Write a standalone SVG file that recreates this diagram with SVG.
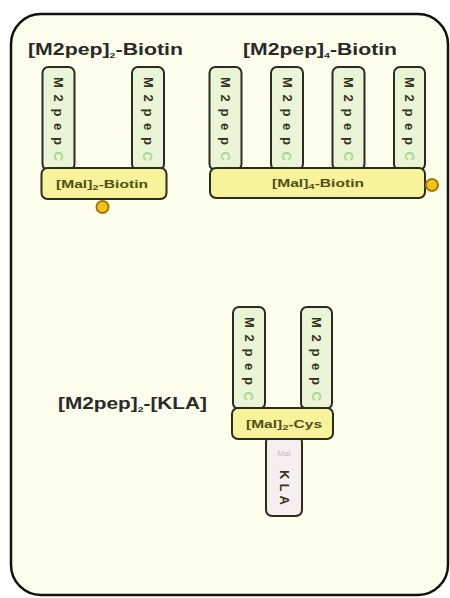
<svg xmlns="http://www.w3.org/2000/svg" width="450" height="598" viewBox="0 0 450 598">
<defs>
<style>
.frame{fill:#fefeec;stroke:#111;stroke-width:2.5}
.pep{fill:#eaf4d6;stroke:#2b2b20;stroke-width:2}
.mal{fill:#f7f39a;stroke:#2b2b20;stroke-width:2}
.kla{fill:#f7eef0;stroke:#2b2b20;stroke-width:2}
.dot{fill:#f2c418;stroke:#a8780a;stroke-width:2}
.title{font-family:"Liberation Sans",Arial,sans-serif;font-weight:bold;font-size:16px;fill:#2a2a2a}
.vt{font-family:"Liberation Sans",Arial,sans-serif;font-weight:bold;font-size:13px;fill:#33331f;dominant-baseline:central}
.vc{fill:#a9d78e}
.mt{font-family:"Liberation Sans",Arial,sans-serif;font-weight:bold;font-size:11px;fill:#4f4f18;text-anchor:middle}
.sub{font-size:8px}
.faint{font-family:"Liberation Sans",Arial,sans-serif;font-size:8px;fill:#c9b9c2;text-anchor:middle}
</style>
</defs>
<rect x="0" y="0" width="450" height="598" fill="#ffffff"/>
<rect class="frame" x="11" y="14" width="437" height="581" rx="30"/>

<g id="connectors"></g>

<g id="title-biotin2">
<text class="title" x="28" y="55" textLength="155" lengthAdjust="spacingAndGlyphs">[M2pep]<tspan class="sub" dy="3">2</tspan><tspan dy="-3">-Biotin</tspan></text>
</g>
<g id="title-biotin4">
<text class="title" x="243" y="55" textLength="154" lengthAdjust="spacingAndGlyphs">[M2pep]<tspan class="sub" dy="3">4</tspan><tspan dy="-3">-Biotin</tspan></text>
</g>
<g id="title-kla">
<text class="title" x="58" y="409" textLength="149" lengthAdjust="spacingAndGlyphs">[M2pep]<tspan class="sub" dy="3">2</tspan><tspan dy="-3">-[KLA]</tspan></text>
</g>

<!-- Biotin2 construct -->
<g id="b2-pep1">
<rect class="pep" x="42.5" y="67" width="32" height="103" rx="6"/>
<text class="vt" x="58.5" y="77" transform="rotate(90 58.5 77)" textLength="84" lengthAdjust="spacing">M2pep<tspan class="vc">C</tspan></text>
</g>
<g id="b2-pep2">
<rect class="pep" x="132" y="67" width="32" height="103" rx="6"/>
<text class="vt" x="148" y="77" transform="rotate(90 148 77)" textLength="84" lengthAdjust="spacing">M2pep<tspan class="vc">C</tspan></text>
</g>
<g id="b2-mal">
<rect class="mal" x="41.5" y="168" width="125" height="31" rx="6"/>
<text class="mt" x="102" y="188" textLength="92" lengthAdjust="spacingAndGlyphs">[Mal]<tspan class="sub" dy="2">2</tspan><tspan dy="-2">-Biotin</tspan></text>
</g>
<g id="b2-biotin">
<circle class="dot" cx="102.5" cy="207" r="6"/>
</g>

<!-- Biotin4 construct -->
<g id="b4-pep1">
<rect class="pep" x="209.5" y="67" width="32" height="103" rx="6"/>
<text class="vt" x="225.5" y="77" transform="rotate(90 225.5 77)" textLength="84" lengthAdjust="spacing">M2pep<tspan class="vc">C</tspan></text>
</g>
<g id="b4-pep2">
<rect class="pep" x="271" y="67" width="32" height="103" rx="6"/>
<text class="vt" x="287" y="77" transform="rotate(90 287 77)" textLength="84" lengthAdjust="spacing">M2pep<tspan class="vc">C</tspan></text>
</g>
<g id="b4-pep3">
<rect class="pep" x="332.5" y="67" width="32" height="103" rx="6"/>
<text class="vt" x="348.5" y="77" transform="rotate(90 348.5 77)" textLength="84" lengthAdjust="spacing">M2pep<tspan class="vc">C</tspan></text>
</g>
<g id="b4-pep4">
<rect class="pep" x="394" y="67" width="31" height="103" rx="6"/>
<text class="vt" x="409.5" y="77" transform="rotate(90 409.5 77)" textLength="84" lengthAdjust="spacing">M2pep<tspan class="vc">C</tspan></text>
</g>
<g id="b4-mal">
<rect class="mal" x="210" y="168" width="215" height="30" rx="6"/>
<text class="mt" x="318" y="187" textLength="92" lengthAdjust="spacingAndGlyphs">[Mal]<tspan class="sub" dy="2">4</tspan><tspan dy="-2">-Biotin</tspan></text>
</g>
<g id="b4-biotin">
<circle class="dot" cx="432" cy="185" r="6"/>
</g>

<!-- KLA construct -->
<g id="k-pep1">
<rect class="pep" x="233" y="307" width="32" height="102" rx="6"/>
<text class="vt" x="249" y="317" transform="rotate(90 249 317)" textLength="84" lengthAdjust="spacing">M2pep<tspan class="vc">C</tspan></text>
</g>
<g id="k-pep2">
<rect class="pep" x="301" y="307" width="31" height="102" rx="6"/>
<text class="vt" x="316.5" y="317" transform="rotate(90 316.5 317)" textLength="84" lengthAdjust="spacing">M2pep<tspan class="vc">C</tspan></text>
</g>
<g id="k-kla">
<rect class="kla" x="266" y="436" width="36" height="80" rx="6"/>
<text class="faint" x="284" y="456">Mal</text>
<text class="vt" x="284" y="470" transform="rotate(90 284 470)" textLength="35" lengthAdjust="spacing">KLA</text>
</g>
<g id="k-mal">
<rect class="mal" x="232" y="408" width="101" height="31" rx="6"/>
<text class="mt" x="284" y="428" textLength="76" lengthAdjust="spacingAndGlyphs">[Mal]<tspan class="sub" dy="2">2</tspan><tspan dy="-2">-Cys</tspan></text>
</g>
</svg>
